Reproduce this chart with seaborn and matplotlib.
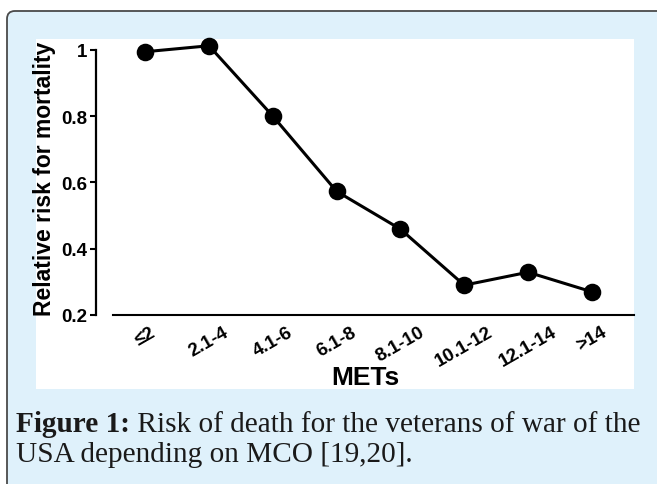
import matplotlib
matplotlib.use("Agg")
import matplotlib.pyplot as plt
import pandas as pd
import seaborn as sns
from matplotlib.patches import FancyBboxPatch, Rectangle

# ==========================================================
# DATA
# ==========================================================

mets = ["≤2", "2.1-4", "4.1-6", "6.1-8", "8.1-10", "10.1-12", "12.1-14", ">14"]
risk = [0.994, 1.012, 0.80, 0.573, 0.459, 0.29, 0.329, 0.27]

ytick_values = [0.2, 0.4, 0.6, 0.8, 1.0]
ytick_labels = ["0.2", "0.4", "0.6", "0.8", "1"]

caption_bold = "Figure 1:"
caption_line1 = " Risk of death for the veterans of war of the"
caption_line2 = "USA depending on MCO [19,20]."

# ==========================================================
# FIGURE SETUP
# ==========================================================

sns.set_theme(style="white")
plt.rcParams["font.family"] = ["Liberation Sans", "DejaVu Sans"]

W, H = 657, 485
fig = plt.figure(figsize=(W / 100, H / 100), dpi=100)
fig.patch.set_facecolor("white")


def fx(px):
    return px / W


def fy(py):
    return 1 - py / H


# light blue rounded frame (cut off at right / bottom like the source)
frame = FancyBboxPatch(
    (fx(7), fy(520)), fx(700) - fx(7), fy(12) - fy(520),
    boxstyle="round,pad=0,rounding_size=0.012",
    mutation_aspect=W / H,
    transform=fig.transFigure,
    facecolor="#dff1fb", edgecolor="#4a4a4a", linewidth=1.3,
    zorder=-2,
)
fig.add_artist(frame)

# white panel holding the chart
panel = Rectangle(
    (fx(36), fy(390)), fx(634) - fx(36), fy(40) - fy(390),
    transform=fig.transFigure, facecolor="white", edgecolor="none",
    zorder=-1,
)
fig.add_artist(panel)

# ==========================================================
# CHART
# ==========================================================

ax = fig.add_axes([fx(96), fy(316), fx(634) - fx(96), fy(40.8) - fy(316)])
ax.set_facecolor("none")

df = pd.DataFrame({"METs": mets, "risk": risk})

sns.pointplot(
    data=df,
    x="METs",
    y="risk",
    color="black",
    markers="o",
    markersize=11,
    linewidth=2.2,
    errorbar=None,
    ax=ax,
)

for line in ax.lines:
    line.set_clip_on(False)
for coll in ax.collections:
    coll.set_clip_on(False)

ax.set_xlim(-0.77, 7.66)
ax.set_ylim(0.2, 1.03)

ax.spines["top"].set_visible(False)
ax.spines["right"].set_visible(False)
ax.spines["left"].set_bounds(0.2, 1.0)
ax.spines["left"].set_linewidth(1.6)
ax.spines["left"].set_color("black")
ax.spines["bottom"].set_bounds(-0.5, 7.66)
ax.spines["bottom"].set_linewidth(1.5)
ax.spines["bottom"].set_color("black")

ax.set_yticks(ytick_values)
ax.set_yticklabels(ytick_labels, fontsize=13.5, fontweight="bold")
ax.tick_params(axis="y", length=4, width=1.5, pad=2.5,
               direction="out", left=True, colors="black")
ax.tick_params(axis="x", length=0, pad=6, colors="black")

for lab in ax.get_xticklabels():
    lab.set_rotation(30)
    lab.set_ha("center")
    lab.set_fontsize(13.5)
    lab.set_fontweight("bold")

ax.set_ylabel("Relative risk for mortality", fontsize=16.5, fontweight="bold",
              color="black")
ax.yaxis.set_label_coords((56 - 96) / (634 - 96), 0.5)
ax.set_xlabel("METs", fontsize=19, fontweight="bold", color="black",
              va="top")
ax.xaxis.set_label_coords(0.5, (316 - 366) / (316 - 40.8))

# ==========================================================
# CAPTION
# ==========================================================

serif = ["Liberation Serif", "DejaVu Serif"]
t_bold = fig.text(fx(16), fy(432), caption_bold, fontsize=17.5,
                  fontweight="bold", family=serif, color="#1a1a1a",
                  va="baseline")
t_rest = fig.text(0, 0, caption_line1, fontsize=17.5, family=serif,
                  color="#1a1a1a", va="baseline")
t_line2 = fig.text(fx(16), fy(462), caption_line2, fontsize=17.5,
                   family=serif, color="#1a1a1a", va="baseline")

# fit the first caption line to the width of the source
fig.canvas.draw()
renderer = fig.canvas.get_renderer()
target = 640 - 16
w_b = t_bold.get_window_extent(renderer).width
w_r = t_rest.get_window_extent(renderer).width
scale = target / (w_b + w_r)
for t in (t_bold, t_rest, t_line2):
    t.set_fontsize(17.5 * scale)
fig.canvas.draw()
w_b = t_bold.get_window_extent(renderer).width
t_rest.set_position((fx(16) + w_b / W, fy(432)))

fig.savefig("out.png", dpi=100)
